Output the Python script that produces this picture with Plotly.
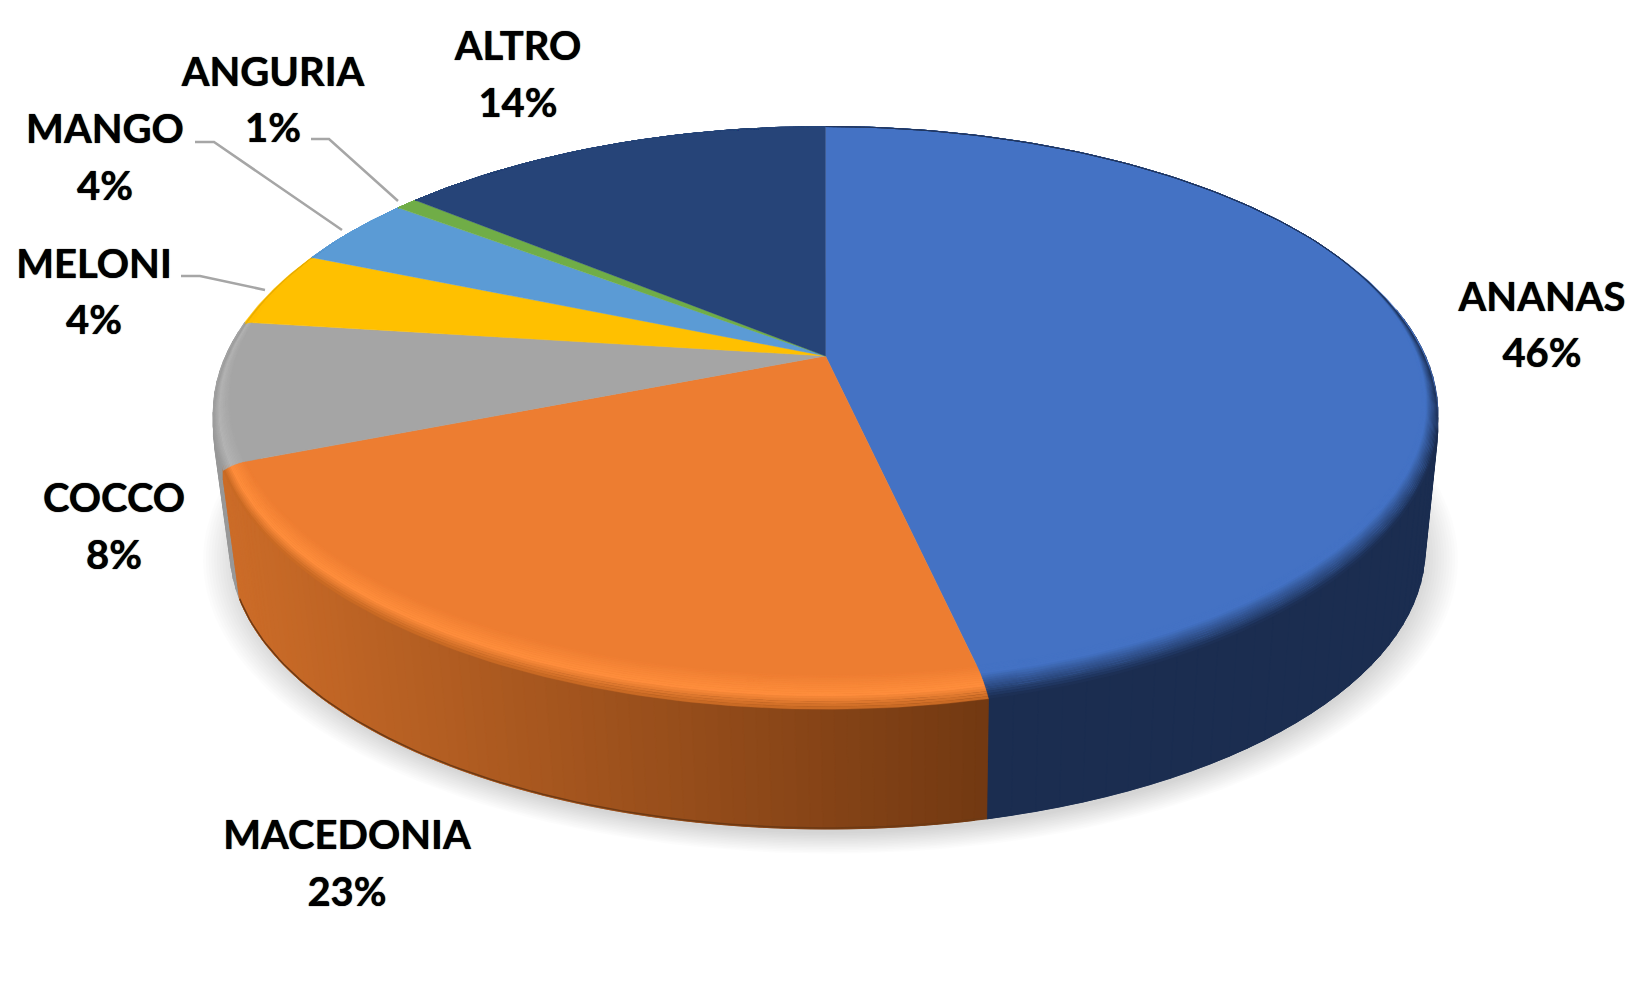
import math
import plotly.graph_objects as go

# ---------- data ----------
CATEGORIES = ["ANANAS", "MACEDONIA", "COCCO", "MELONI", "MANGO", "ANGURIA", "ALTRO"]
VALUES = [46.49, 22.51, 8, 4.3, 4, 0.7, 14]

# ---------- styles and label placement ----------
TOP_COLORS = ["#4472C4", "#ED7D31", "#A5A5A5", "#FFC000", "#5B9BD5", "#70AD47", "#264478"]
RIM_MID = ["#4472C4", "#FF8E3C", "#B4B4B4", "#FFC000", "#5B9BD5", "#70AD47", "#264478"]
RIM_EDGE = ["#1B2D50", "#C46622", "#9A9A9A", "#E0A800", "#5B9BD5", "#70AD47", "#264478"]
RIM_BREAK = [0.3, 0.65, 0.65, 0.65, 0.65, 0.65, 0.65]
LABEL_X = [1542, 347, 114, 94, 105, 273, 518]
LABEL_NAME_Y = [301, 839, 502, 268, 133, 76, 50]
LABEL_PCT_Y = [357, 896, 559, 324, 190, 132, 107]
LEADERS = [
    ([311, 329, 398], [139, 139, 201]),
    ([195, 214, 342], [142, 142, 230]),
    ([181, 200, 265], [276, 276, 290]),
]
FONT = dict(family="Lato, Carlito, sans-serif", size=40, color="#000000")

# ---------- projection of the tilted disc ----------
CX, CY, RX, RY, K = 825.5, 356.0, 600.0, 275.4, 0.2
BOTTOM_SCALE, BOTTOM_DY, BOTTOM_DX = 0.976, 137.0, 2.0
MID_DY = 14.0
LIP_DY = 9.0


def project(theta, rho=1.0, scale=1.0, dy=0.0, dx=0.0):
    X = rho * math.sin(theta)
    Y = -rho * math.cos(theta)
    d = 1 - K * Y
    return CX + dx + scale * RX * X / d, CY + dy + scale * RY * Y / d


def bottom(theta):
    return project(theta, 1.0, BOTTOM_SCALE, BOTTOM_DY, BOTTOM_DX)


def middle(theta):
    return project(theta, 1.0, 1.0, MID_DY, 0.0)


def bevel(theta):
    Y = -math.cos(theta)
    return max(0.0, (Y + 0.45) / 1.45) * 0.06


def mix(c1, c2, t):
    a = [int(c1[i:i + 2], 16) for i in (1, 3, 5)]
    b = [int(c2[i:i + 2], 16) for i in (1, 3, 5)]
    return "rgb(%d,%d,%d)" % tuple(round(p + (q - p) * t) for p, q in zip(a, b))


def angles(a0, a1, step=0.4):
    n = max(2, int(abs(math.degrees(a1 - a0)) / step) + 1)
    return [a0 + (a1 - a0) * i / (n - 1) for i in range(n)]


fig = go.Figure()


def poly(xs, ys, color, lw=0.6):
    fig.add_trace(go.Scatter(
        x=xs + xs[:1], y=ys + ys[:1], mode="lines", fill="toself", fillcolor=color,
        line=dict(color=color, width=lw), hoverinfo="skip", showlegend=False))


def wall_strip(t0, t1, color, lw=0.8):
    pts = [project(t0), project(t1), middle(t1), bottom(t1), bottom(t0), middle(t0)]
    poly([p[0] for p in pts], [p[1] for p in pts], color, lw)


# ---------- slice angles from the values ----------
total = sum(VALUES)
edges = [0.0]
for v in VALUES:
    edges.append(edges[-1] + v / total * 2 * math.pi)

# ---------- soft shadow under the disc ----------
LAYERS = 14
full = angles(0, 2 * math.pi, 2)
for i in range(LAYERS):
    g = 1.05 - 0.06 * i / (LAYERS - 1)
    pts = [project(t, 1.0, BOTTOM_SCALE * g, BOTTOM_DY + 8, BOTTOM_DX + 3) for t in full]
    poly([p[0] for p in pts], [p[1] for p in pts], "rgba(0,0,0,0.012)", 0)

# ---------- side wall (strips overlap by one step, so no seams show) ----------
SIDE_START, SIDE_END = math.radians(80), math.radians(282)
th = angles(max(edges[0], SIDE_START), edges[1], 2)
for j in range(len(th) - 1):
    wall_strip(th[j], th[min(j + 2, len(th) - 1)], "#1B2D50")
th = angles(min(edges[3], SIDE_END), edges[2], 2)
for j in range(len(th) - 1):
    wall_strip(th[j], th[min(j + 2, len(th) - 1)], "#989898")
# macedonia wall with a left-to-right gradient, drawn one strip at a time
th = angles(edges[1], edges[2], 1.0)
x_right = project(th[0])[0]
x_left = project(th[-1])[0]
for j in range(len(th) - 1):
    f = (project(th[j])[0] - x_left) / (x_right - x_left)
    wall_strip(th[j], th[min(j + 2, len(th) - 1)], mix("#CC6C28", "#733912", f))
# darker lower lip of the macedonia wall
th = angles(edges[1], edges[2], 1)
lip = [bottom(t) for t in th]
fig.add_trace(go.Scatter(x=[p[0] for p in lip], y=[p[1] - 1 for p in lip], mode="lines",
                         line=dict(color="#6E3A14", width=1.5), hoverinfo="skip", showlegend=False))

# ---------- top surface ----------
for i, color in enumerate(TOP_COLORS):
    th = angles(edges[i], edges[i + 1])
    pts = [(CX, CY)] + [project(t) for t in th]
    poly([p[0] for p in pts], [p[1] for p in pts], color, 0.4)

# ---------- bevel along the rim ----------
BANDS = 16


def ring_pt(t, u):
    w = bevel(t)
    return project(t, 1 - (1 - u) * w, 1.0, LIP_DY * u * u * w / 0.06)


for i in range(len(VALUES)):
    th = angles(edges[i], edges[i + 1], 1)
    brk = RIM_BREAK[i]
    for b in range(BANDS):
        u0, u1 = b / BANDS, (b + 1) / BANDS
        um = (u0 + u1) / 2
        if um < brk:
            col = mix(TOP_COLORS[i], RIM_MID[i], um / brk)
        else:
            col = mix(RIM_MID[i], RIM_EDGE[i], (um - brk) / (1 - brk))
        outer = [ring_pt(t, u1) for t in th]
        inner = [ring_pt(t, u0) for t in th]
        ring = outer + inner[::-1]
        poly([p[0] for p in ring], [p[1] for p in ring], col, 0.3)

# ---------- leader lines ----------
for lx, ly in LEADERS:
    fig.add_trace(go.Scatter(x=lx, y=ly, mode="lines", line=dict(color="#A6A6A6", width=2.5),
                             hoverinfo="skip", showlegend=False))

# ---------- labels ----------
fig.add_trace(go.Scatter(
    x=LABEL_X + LABEL_X, y=LABEL_NAME_Y + LABEL_PCT_Y, mode="text",
    text=CATEGORIES + [f"{round(v)}%" for v in VALUES],
    textposition="middle center",
    textfont=dict(family=FONT["family"], size=FONT["size"], color=FONT["color"], weight="bold",
                  shadow="0 0 1px #000000"),
    hoverinfo="skip", showlegend=False))

fig.update_layout(
    width=1651, height=990, margin=dict(l=0, r=0, t=0, b=0),
    paper_bgcolor="#FFFFFF", plot_bgcolor="#FFFFFF", showlegend=False,
    xaxis=dict(range=[0, 1651], visible=False, fixedrange=True),
    yaxis=dict(range=[990, 0], visible=False, fixedrange=True),
)
fig.write_html("out.html", config=dict(displayModeBar=False),
               post_script="document.body.style.margin='0';document.body.style.overflow='hidden';")
